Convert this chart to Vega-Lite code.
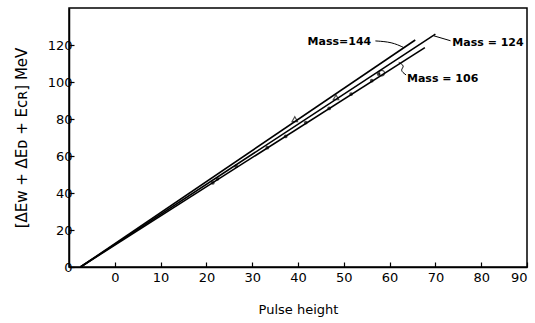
{
  "$schema": "https://vega.github.io/schema/vega-lite/v6.json",
  "autosize": "none",
  "width": 458,
  "height": 259,
  "padding": {"left": 69, "top": 8, "right": 8, "bottom": 56},
  "background": "white",
  "config": {
    "view": {"stroke": "black", "strokeWidth": 1.5},
    "font": "DejaVu Sans",
    "axis": {"grid": false, "domainColor": "black", "tickColor": "black", "labelColor": "black", "titleColor": "black", "labelFont": "DejaVu Sans", "titleFont": "DejaVu Sans", "titleFontWeight": "normal"}
  },
  "datasets": {
    "lines": [
      {"mass": "144", "x": -7.5, "y": 0}, {"mass": "144", "x": 65.6, "y": 122.7},
      {"mass": "124", "x": -7.5, "y": 0}, {"mass": "124", "x": 70.0, "y": 125.9},
      {"mass": "106", "x": -7.5, "y": 0}, {"mass": "106", "x": 67.7, "y": 118.6}
    ],
    "points": [
      {"x": 21.4, "y": 45.5, "kind": "dot"},
      {"x": 22.4, "y": 47.7, "kind": "dot"},
      {"x": 26.5, "y": 54.5, "kind": "dot"},
      {"x": 33.3, "y": 64.5, "kind": "dot"},
      {"x": 37.3, "y": 70.6, "kind": "dot"},
      {"x": 41.7, "y": 78.1, "kind": "dot"},
      {"x": 46.8, "y": 85.7, "kind": "dot"},
      {"x": 51.6, "y": 93.5, "kind": "dot"},
      {"x": 56.1, "y": 100.7, "kind": "dot"},
      {"x": 57.6, "y": 104.3, "kind": "dot"},
      {"x": 39.3, "y": 79.9, "kind": "triangle"},
      {"x": 48.3, "y": 91.7, "kind": "triangle"},
      {"x": 58.3, "y": 104.8, "kind": "circle"}
    ],
    "labels": [
      {"x": 56.0, "y": 121.7, "text": "Mass=144", "side": "right"},
      {"x": 73.7, "y": 120.9, "text": "Mass = 124", "side": "left"},
      {"x": 63.8, "y": 101.6, "text": "Mass = 106", "side": "left"}
    ],
    "leaders": [
      {"id": "a", "o": 1, "x": 56.9, "y": 122.2},
      {"id": "a", "o": 2, "x": 60.5, "y": 121.6},
      {"id": "a", "o": 3, "x": 63.1, "y": 118.6},
      {"id": "b", "o": 1, "x": 73.3, "y": 122.3},
      {"id": "b", "o": 2, "x": 69.6, "y": 125.0},
      {"id": "c", "o": 1, "x": 63.6, "y": 103.8},
      {"id": "c", "o": 2, "x": 62.2, "y": 106.4},
      {"id": "c", "o": 3, "x": 63.4, "y": 108.6},
      {"id": "c", "o": 4, "x": 62.0, "y": 110.6}
    ],
    "xticks": [{"v": 0}, {"v": 10}, {"v": 20}, {"v": 30}, {"v": 40}, {"v": 50}, {"v": 60}, {"v": 70}, {"v": 80}, {"v": 90}],
    "yticks": [{"v": 20}, {"v": 40}, {"v": 60}, {"v": 80}, {"v": 100}, {"v": 120}]
  },
  "encoding": {
    "x": {"field": "x", "type": "quantitative", "scale": {"domain": [-10, 90], "nice": false, "zero": false},
      "axis": {"orient": "bottom", "values": [0, 10, 20, 30, 40, 50, 60, 70, 80, 90], "tickSize": -5, "labelPadding": 9, "labelFontSize": 13, "title": "Pulse height", "titleFontSize": 13, "titlePadding": 19, "domainWidth": 1.5, "tickWidth": 1.2}},
    "y": {"field": "y", "type": "quantitative", "scale": {"domain": [0, 140], "nice": false},
      "axis": {"orient": "left", "values": [0, 20, 40, 60, 80, 100, 120], "tickSize": -5, "labelPadding": 2, "labelFontSize": 13, "title": "[ΔEᴡ + ΔEᴅ + Eᴄʀ] MeV", "titleFontSize": 15, "titlePadding": 18, "domainWidth": 1.5, "tickWidth": 1.2}}
  },
  "layer": [
    {
      "data": {"name": "lines"},
      "mark": {"type": "line", "color": "black", "strokeWidth": 1.6},
      "encoding": {"detail": {"field": "mass"}}
    },
    {
      "data": {"name": "xticks"},
      "mark": {"type": "rule", "color": "black", "strokeWidth": 1.2},
      "encoding": {
        "x": {"field": "v", "type": "quantitative"},
        "y": {"datum": 140},
        "y2": {"datum": 137.3}
      }
    },
    {
      "data": {"name": "yticks"},
      "mark": {"type": "rule", "color": "black", "strokeWidth": 1.2},
      "encoding": {
        "y": {"field": "v", "type": "quantitative"},
        "x": {"datum": 90},
        "x2": {"datum": 88.9}
      }
    },
    {
      "data": {"name": "points"},
      "transform": [{"filter": "datum.kind == 'dot'"}],
      "mark": {"type": "point", "filled": true, "color": "black", "size": 14}
    },
    {
      "data": {"name": "points"},
      "transform": [{"filter": "datum.kind == 'triangle'"}],
      "mark": {"type": "point", "shape": "triangle-up", "filled": false, "color": "black", "size": 30, "strokeWidth": 1.2}
    },
    {
      "data": {"name": "points"},
      "transform": [{"filter": "datum.kind == 'circle'"}],
      "mark": {"type": "point", "shape": "circle", "filled": false, "color": "black", "size": 30, "strokeWidth": 1.2}
    },
    {
      "data": {"name": "leaders"},
      "mark": {"type": "line", "color": "black", "strokeWidth": 1, "interpolate": "basis"},
      "encoding": {"detail": {"field": "id"}, "order": {"field": "o"}}
    },
    {
      "data": {"name": "labels"},
      "transform": [{"filter": "datum.side == 'right'"}],
      "mark": {"type": "text", "color": "black", "fontSize": 11, "fontWeight": "bold", "baseline": "middle", "align": "right"},
      "encoding": {"text": {"field": "text"}}
    },
    {
      "data": {"name": "labels"},
      "transform": [{"filter": "datum.side == 'left'"}],
      "mark": {"type": "text", "color": "black", "fontSize": 11, "fontWeight": "bold", "baseline": "middle", "align": "left"},
      "encoding": {"text": {"field": "text"}}
    }
  ]
}
